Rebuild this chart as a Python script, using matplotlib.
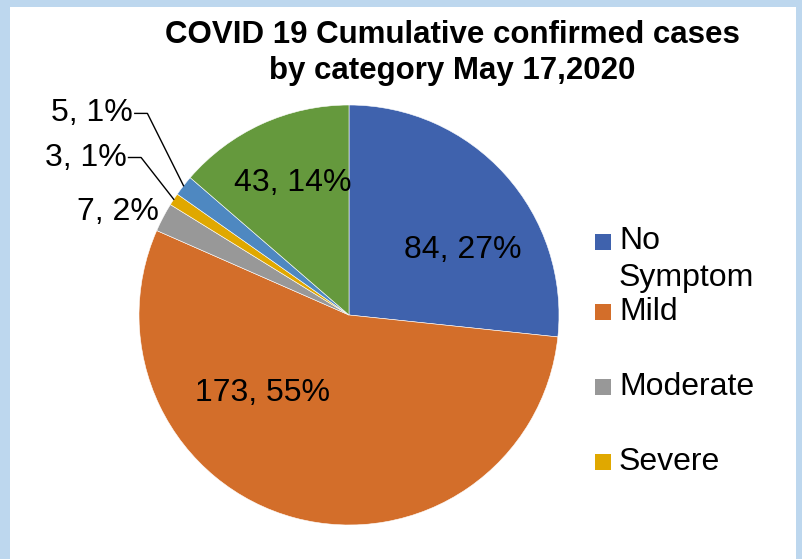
import matplotlib.pyplot as plt
import matplotlib.patches as mpatches
import numpy as np

plt.rcParams['font.family'] = ['Liberation Sans', 'DejaVu Sans']

# data
categories = ['No\nSymptom', 'Mild', 'Moderate', 'Severe', 'Critical', 'Recovered']
cases = [84, 173, 7, 3, 5, 43]
percent = [27, 55, 2, 1, 1, 14]  # as printed on the chart
colors = ['#3F62AD', '#D36E2A', '#989898', '#E0A800', '#4E88C1', '#65993D']
legend_count = 4  # the legend box in the original only shows the first four

# label offsets (pie radius = 1)
label_pos = [(0.54, 0.31), (-0.41, -0.37), (-1.10, 0.49), (-1.26, 0.75),
             (-1.24, 0.96), (-0.27, 0.63)]
leader = {3: (-1.05, 0.75), 4: (-1.02, 0.96)}

W, H = 803, 559
fig = plt.figure(figsize=(W / 100, H / 100), dpi=100, facecolor='#BDD7EE')
fig.patches.append(mpatches.Rectangle((10 / W, 0), (796 - 10) / W, (H - 7) / H,
                                      transform=fig.transFigure, facecolor='white',
                                      edgecolor='none', zorder=-5))

cx, cy, r = 349, 315, 210
ax = fig.add_axes([(cx - r) / W, (H - cy - r) / H, 2 * r / W, 2 * r / H])
ax.set_zorder(3)

wedges, _ = ax.pie(cases, colors=colors, startangle=90, counterclock=False,
                   radius=1, wedgeprops=dict(edgecolor='white', linewidth=0.4))
ax.set_xlim(-1, 1)
ax.set_ylim(-1, 1)
ax.set_aspect('equal')
ax.axis('off')

for i, (w, v) in enumerate(zip(wedges, cases)):
    txt = f'{v}, {percent[i]}%'
    x, y = label_pos[i]
    if i in leader:
        ang = np.deg2rad((w.theta1 + w.theta2) / 2)
        ex, ey = np.cos(ang), np.sin(ang)
        lx, ly = leader[i]
        ax.plot([lx, lx + 0.06, ex], [ly, ly, ey], color='black', lw=1,
                clip_on=False)
        ax.text(lx - 0.01, ly, txt, ha='right', va='center', fontsize=23)
    else:
        ax.text(x, y, txt, ha='center', va='center', fontsize=23)

fig.text(452 / W, 1 - 53 / H, 'COVID 19 Cumulative confirmed cases\nby category May 17,2020',
         ha='center', va='center', fontsize=22.5, fontweight='bold', linespacing=1.28)

# legend drawn by hand to keep the uneven row spacing of the original
rows_y = [242, 312, 387, 462]
line_h = 35
for i in range(legend_count):
    y = rows_y[i]
    nlines = categories[i].count('\n') + 1
    fig.patches.append(mpatches.Rectangle((595 / W, 1 - (y + 8) / H), 16 / W, 16 / H,
                                          transform=fig.transFigure,
                                          facecolor=colors[i], edgecolor='none'))
    fig.text(619 / W, 1 - (y + (nlines - 1) * line_h / 2) / H, categories[i],
             ha='left', va='center', fontsize=23, linespacing=1.32)

fig.savefig('out.png', dpi=100, facecolor=fig.get_facecolor())
